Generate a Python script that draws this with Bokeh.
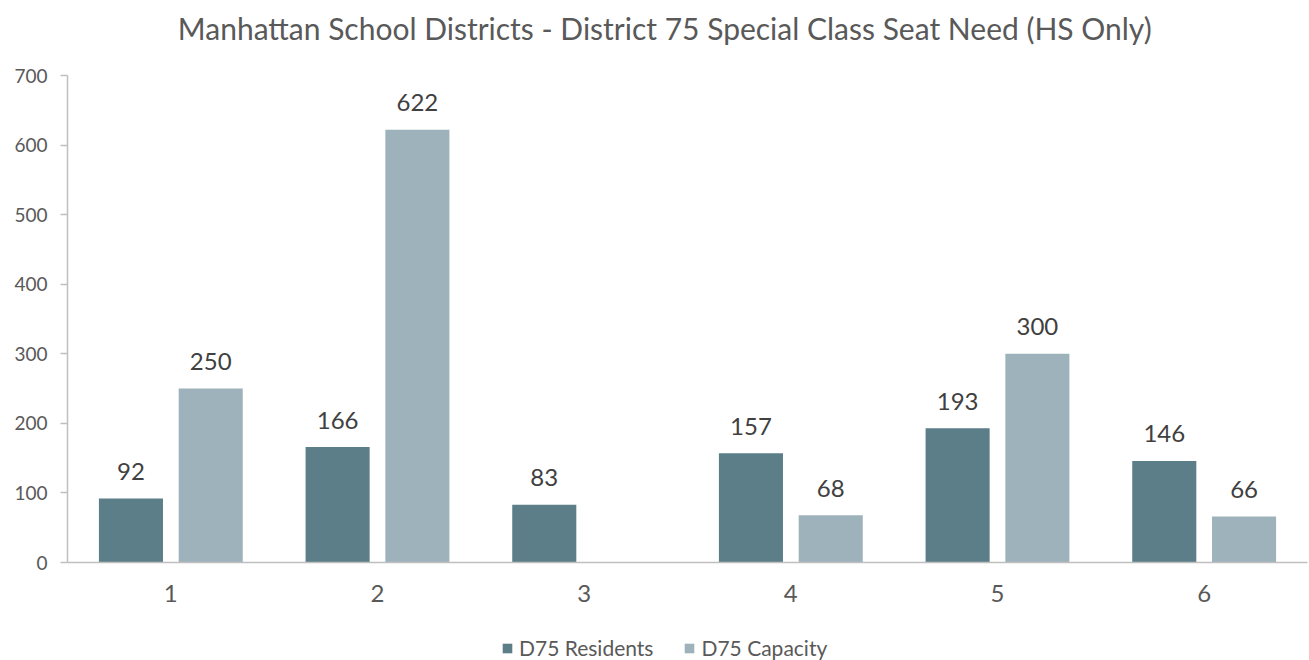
from bokeh.plotting import figure
from bokeh.layouts import column
from bokeh.models import ColumnDataSource, Legend, LegendItem, FixedTicker, Range1d, Label
from bokeh.core.properties import value
from bokeh.embed import file_html
from bokeh.resources import INLINE

districts = [1, 2, 3, 4, 5, 6]
residents = [92, 166, 83, 157, 193, 146]
capacity = [250, 622, float("nan"), 68, 300, 66]
series_names = ["D75 Residents", "D75 Capacity"]
title_text = "Manhattan School Districts - District 75 Special Class Seat Need (HS Only)"

FONT = "Lato"
DARK = "#5b7e88"
LIGHT = "#9db2ba"
OFF = 0.193
BW = 0.31


def strip(h):
    f = figure(frame_width=1240, frame_height=h, output_backend="svg", toolbar_location=None,
               x_range=Range1d(0.5, 6.5), y_range=Range1d(0, 1),
               x_axis_type=None, y_axis_type=None,
               min_border_left=67, min_border_right=2, min_border_top=0, min_border_bottom=0)
    f.outline_line_color = None
    f.xgrid.visible = False
    f.ygrid.visible = False
    return f


# title strip
tp = strip(50)
tp.add_layout(Label(x=3.39, y=0.46, text=title_text, text_align="center", text_baseline="middle",
                    text_font=FONT, text_font_size="30px", text_color="#595959"))

# main chart
p = figure(frame_width=1240, frame_height=487, output_backend="svg", toolbar_location=None,
           x_range=Range1d(0.5, 6.5), y_range=Range1d(0, 700),
           min_border_left=67, min_border_right=2, min_border_top=25, min_border_bottom=48)
p.outline_line_color = None
p.xgrid.visible = False
p.ygrid.visible = False

src_r = ColumnDataSource(dict(x=[d - OFF for d in districts], top=residents,
                              lab=[str(v) for v in residents]))
src_c = ColumnDataSource(dict(x=[d + OFF for d in districts], top=capacity,
                              lab=["" if v != v else str(int(v)) for v in capacity]))

p.vbar(x="x", top="top", width=BW, source=src_r, fill_color=DARK, line_color=None)
p.vbar(x="x", top="top", width=BW, source=src_c, fill_color=LIGHT, line_color=None)

for s in (src_r, src_c):
    p.text(x="x", y="top", text="lab", source=s, text_align="center", text_baseline="alphabetic",
           y_offset=-27, text_font=value(FONT), text_font_size="24px", text_color="#404040")

p.yaxis.ticker = FixedTicker(ticks=list(range(0, 701, 100)))
p.xaxis.ticker = FixedTicker(ticks=districts)
for ax in (p.xaxis, p.yaxis):
    ax.axis_line_color = "#bfbfbf"
    ax.axis_line_width = 1.5
    ax.major_label_text_font = FONT
    ax.major_label_text_color = "#595959"
    ax.minor_tick_line_color = None
p.yaxis.major_tick_line_color = "#bfbfbf"
p.yaxis.major_tick_line_width = 1.5
p.yaxis.major_tick_out = 7
p.yaxis.major_tick_in = 0
p.yaxis.major_label_text_font_size = "19px"
p.yaxis.major_label_standoff = 13
p.xaxis.major_tick_line_color = None
p.xaxis.major_label_text_font_size = "24px"
p.xaxis.major_label_standoff = 16

# legend strip below the chart (swatch renderers hold one point outside the view)
lg = strip(50)
swatch = ColumnDataSource(dict(x=[-5], top=[-5]))
l1 = lg.vbar(x="x", top="top", width=0.1, source=swatch, fill_color=DARK, line_color=None)
l2 = lg.vbar(x="x", top="top", width=0.1, source=swatch, fill_color=LIGHT, line_color=None)

legend = Legend(items=[LegendItem(label=series_names[0], renderers=[l1]),
                       LegendItem(label=series_names[1], renderers=[l2])],
                orientation="horizontal", location=(434, 0),
                label_text_font=FONT, label_text_font_size="21px", label_text_color="#595959",
                glyph_width=12, glyph_height=12, label_standoff=6, spacing=30,
                border_line_color=None, background_fill_alpha=0, padding=0, margin=0)
lg.add_layout(legend, "center")

layout = column(tp, p, lg, spacing=0)
open("out.html", "w").write(file_html(layout, INLINE))
